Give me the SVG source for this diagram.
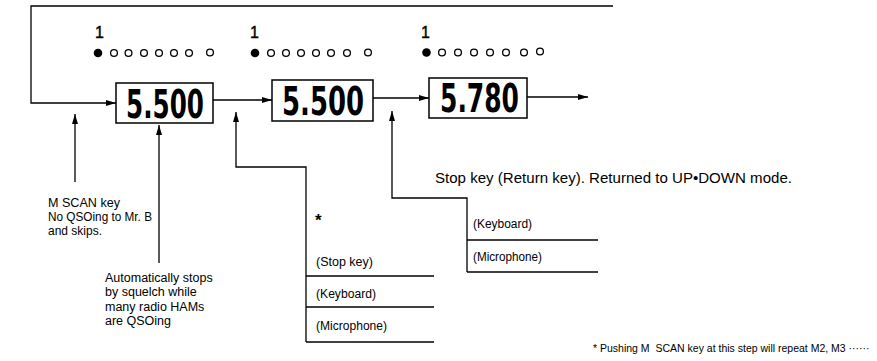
<svg xmlns="http://www.w3.org/2000/svg" width="877" height="361" viewBox="0 0 877 361">
<style>
.ln{fill:none;stroke:#000;stroke-width:1.3}
.box{fill:#fff;stroke:#000;stroke-width:1.5}
.num{font-family:"DejaVu Sans",sans-serif;font-weight:bold;font-size:39px;fill:#000}
.t{font-family:"Liberation Sans",Arial,sans-serif;font-size:12.5px;fill:#000;white-space:pre}
.one{font-family:"Liberation Sans",Arial,sans-serif;font-size:16px;fill:#000;stroke:#000;stroke-width:0.4}
.dot{fill:#fff;stroke:#000;stroke-width:1.3}
</style>
<defs>
<marker id="ah" viewBox="0 0 10 6" refX="10" refY="3" markerWidth="10" markerHeight="6" markerUnits="userSpaceOnUse" orient="auto">
<path d="M0,0 L10,3 L0,6 Z" fill="#000"/>
</marker>
</defs>
<rect width="877" height="361" fill="#fff"/>

<g id="connectors">
<polyline class="ln" points="613,6 31,6 31,103 116,103" marker-end="url(#ah)"/>
<line class="ln" x1="213" y1="100" x2="272" y2="100" marker-end="url(#ah)"/>
<line class="ln" x1="373" y1="98" x2="429" y2="98" marker-end="url(#ah)"/>
<line class="ln" x1="527" y1="97" x2="588" y2="97" marker-end="url(#ah)"/>
<line class="ln" x1="75" y1="182" x2="75" y2="114" marker-end="url(#ah)"/>
<line class="ln" x1="159" y1="263" x2="159" y2="125" marker-end="url(#ah)"/>
<polyline class="ln" points="306,342 306,167 236,167 236,112" marker-end="url(#ah)"/>
<polyline class="ln" points="467,272 467,198 392,198 392,111" marker-end="url(#ah)"/>
<line class="ln" x1="306" y1="276" x2="434" y2="276"/>
<line class="ln" x1="306" y1="307" x2="434" y2="307"/>
<line class="ln" x1="306" y1="342" x2="434" y2="342"/>
<line class="ln" x1="467" y1="240" x2="598" y2="240"/>
<line class="ln" x1="467" y1="272" x2="598" y2="272"/>
</g>

<g id="display1">
<text class="one" x="95" y="38">1</text>
<circle cx="98" cy="53" r="4.3" fill="#000"/>
<circle class="dot" cx="114" cy="53" r="3.4"/>
<circle class="dot" cx="128.5" cy="53" r="3.4"/>
<circle class="dot" cx="144" cy="53" r="3.4"/>
<circle class="dot" cx="159" cy="53" r="3.4"/>
<circle class="dot" cx="174" cy="53" r="3.4"/>
<circle class="dot" cx="189" cy="53" r="3.4"/>
<circle class="dot" cx="210" cy="52.5" r="3.4"/>
</g>
<g id="display2">
<text class="one" x="250" y="38">1</text>
<circle cx="255" cy="53" r="4.3" fill="#000"/>
<circle class="dot" cx="271" cy="53" r="3.4"/>
<circle class="dot" cx="286" cy="53" r="3.4"/>
<circle class="dot" cx="301" cy="53" r="3.4"/>
<circle class="dot" cx="316" cy="53" r="3.4"/>
<circle class="dot" cx="331" cy="53" r="3.4"/>
<circle class="dot" cx="347" cy="53" r="3.4"/>
<circle class="dot" cx="368" cy="52.5" r="3.4"/>
</g>
<g id="display3">
<text class="one" x="421" y="38">1</text>
<circle cx="426.5" cy="52.5" r="4.3" fill="#000"/>
<circle class="dot" cx="442" cy="52.5" r="3.4"/>
<circle class="dot" cx="458" cy="52.5" r="3.4"/>
<circle class="dot" cx="474" cy="52.5" r="3.4"/>
<circle class="dot" cx="490" cy="52.5" r="3.4"/>
<circle class="dot" cx="506" cy="52.5" r="3.4"/>
<circle class="dot" cx="524" cy="52.5" r="3.4"/>
<circle class="dot" cx="540" cy="51.5" r="3.4"/>
</g>

<g id="box1">
<rect class="box" x="116" y="83" width="97" height="40"/>
<text class="num" x="126" y="118" textLength="78" lengthAdjust="spacingAndGlyphs">5.500</text>
</g>
<g id="box2">
<rect class="box" x="272" y="80" width="101" height="41"/>
<text class="num" x="282" y="115" textLength="82" lengthAdjust="spacingAndGlyphs">5.500</text>
</g>
<g id="box3">
<rect class="box" x="429" y="78" width="98" height="40"/>
<text class="num" x="440" y="112" textLength="79" lengthAdjust="spacingAndGlyphs">5.780</text>
</g>

<g id="label-mscan">
<text class="t" x="48" y="207" textLength="72" lengthAdjust="spacingAndGlyphs">M SCAN key</text>
<text class="t" x="48" y="221" textLength="104" lengthAdjust="spacingAndGlyphs">No QSOing to Mr. B</text>
<text class="t" x="48" y="235" textLength="54" lengthAdjust="spacingAndGlyphs">and skips.</text>
</g>
<g id="label-auto">
<text class="t" x="105" y="282">Automatically stops</text>
<text class="t" x="105" y="296">by squelch while</text>
<text class="t" x="105" y="311">many radio HAMs</text>
<text class="t" x="105" y="325">are QSOing</text>
</g>
<g id="table-stop">
<text class="t" x="315" y="226" style="font-size:17px;font-weight:bold">*</text>
<text class="t" x="316" y="266" textLength="57" lengthAdjust="spacingAndGlyphs">(Stop key)</text>
<text class="t" x="316" y="298" textLength="60" lengthAdjust="spacingAndGlyphs">(Keyboard)</text>
<text class="t" x="316" y="330" textLength="71" lengthAdjust="spacingAndGlyphs">(Microphone)</text>
</g>
<g id="table-return">
<text class="t" x="435" y="183" style="font-size:14px" textLength="357" lengthAdjust="spacingAndGlyphs">Stop key (Return key). Returned to UP•DOWN mode.</text>
<text class="t" x="473" y="228" textLength="59" lengthAdjust="spacingAndGlyphs">(Keyboard)</text>
<text class="t" x="473" y="261" textLength="69" lengthAdjust="spacingAndGlyphs">(Microphone)</text>
</g>
<g id="footnote">
<text class="t" x="593" y="352" style="font-size:10.5px">* Pushing M  SCAN key at this step will repeat M2, M3 ······</text>
</g>
</svg>
